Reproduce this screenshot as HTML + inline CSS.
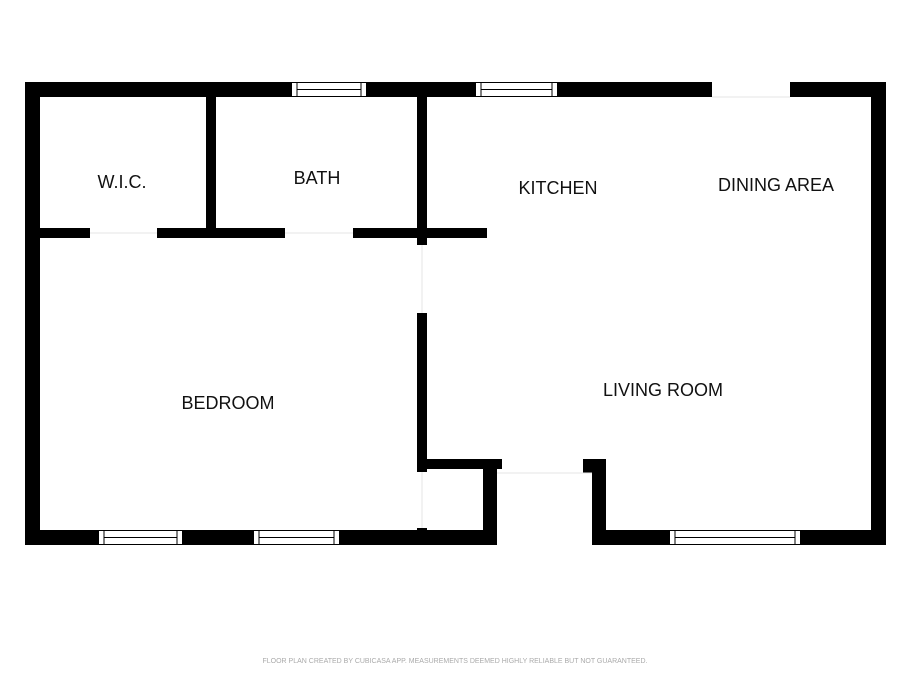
<!DOCTYPE html>
<html><head><meta charset="utf-8"><style>
html,body{margin:0;padding:0;background:#fff;}
svg{display:block;}
text{font-family:"Liberation Sans",sans-serif;fill:#111;}
</style></head><body>
<svg width="911" height="683" viewBox="0 0 911 683" xmlns="http://www.w3.org/2000/svg">
<g fill="#000">
<!-- top wall -->
<rect x="25" y="82" width="266" height="15"/>
<rect x="367" y="82" width="108" height="15"/>
<rect x="558" y="82" width="154" height="15"/>
<rect x="790" y="82" width="96" height="15"/>
<!-- left/right walls -->
<rect x="25" y="82" width="15" height="463"/>
<rect x="871" y="82" width="15" height="463"/>
<!-- bottom wall -->
<rect x="25" y="530" width="73" height="15"/>
<rect x="183" y="530" width="70" height="15"/>
<rect x="340" y="530" width="157" height="15"/>
<rect x="592" y="530" width="77" height="15"/>
<rect x="801" y="530" width="85" height="15"/>
<!-- interior -->
<rect x="206" y="97" width="10" height="136"/>
<rect x="40" y="228" width="50" height="10"/>
<rect x="157" y="228" width="128" height="10"/>
<rect x="353" y="228" width="134" height="10"/>
<rect x="417" y="97" width="10" height="148"/>
<rect x="417" y="313" width="10" height="159"/>
<rect x="417" y="459" width="85" height="10"/>
<rect x="483" y="459" width="14" height="86"/>
<rect x="417" y="528" width="10" height="4"/>
<rect x="583" y="459" width="23" height="14"/>
<rect x="592" y="459" width="14" height="86"/>
</g>
<!-- door lines -->
<g stroke="#e6e6e6" stroke-width="1" fill="none">
<line x1="90" y1="233" x2="157" y2="233"/>
<line x1="285" y1="233" x2="353" y2="233"/>
<line x1="422" y1="245" x2="422" y2="313"/>
<line x1="422" y1="472" x2="422" y2="528"/>
<line x1="497" y1="473" x2="592" y2="473"/>
<line x1="712" y1="97" x2="790" y2="97"/>
</g>
<!-- windows -->
<g fill="#fff" stroke="#000" stroke-width="1">
<rect x="291.5" y="82.5" width="75" height="14"/>
<rect x="475.5" y="82.5" width="82" height="14"/>
<rect x="98.5" y="530.5" width="84" height="14"/>
<rect x="253.5" y="530.5" width="86" height="14"/>
<rect x="669.5" y="530.5" width="131" height="14"/>
</g>
<g stroke="#000" stroke-width="1">
<line x1="297" y1="83" x2="297" y2="96"/><line x1="361" y1="83" x2="361" y2="96"/><line x1="297" y1="89.5" x2="361" y2="89.5"/>
<line x1="481" y1="83" x2="481" y2="96"/><line x1="552" y1="83" x2="552" y2="96"/><line x1="481" y1="89.5" x2="552" y2="89.5"/>
<line x1="104" y1="531" x2="104" y2="544"/><line x1="177" y1="531" x2="177" y2="544"/><line x1="104" y1="537.5" x2="177" y2="537.5"/>
<line x1="259" y1="531" x2="259" y2="544"/><line x1="334" y1="531" x2="334" y2="544"/><line x1="259" y1="537.5" x2="334" y2="537.5"/>
<line x1="675" y1="531" x2="675" y2="544"/><line x1="795" y1="531" x2="795" y2="544"/><line x1="675" y1="537.5" x2="795" y2="537.5"/>
</g>
<g font-size="18" text-anchor="middle">
<text x="122" y="188">W.I.C.</text>
<text x="317" y="184">BATH</text>
<text x="558" y="194">KITCHEN</text>
<text x="776" y="191">DINING AREA</text>
<text x="228" y="409">BEDROOM</text>
<text x="663" y="396">LIVING ROOM</text>
</g>
<text x="455" y="663" font-size="7" text-anchor="middle" style="fill:#aaa">FLOOR PLAN CREATED BY CUBICASA APP. MEASUREMENTS DEEMED HIGHLY RELIABLE BUT NOT GUARANTEED.</text>
</svg>
</body></html>
